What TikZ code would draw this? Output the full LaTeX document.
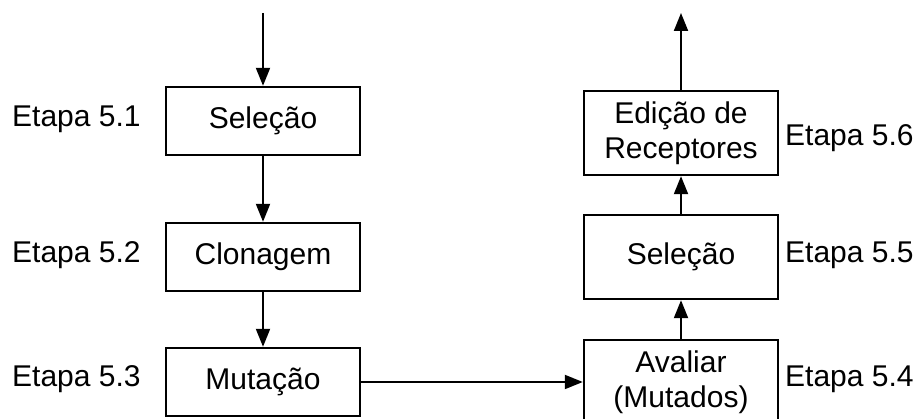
\documentclass[tikz,border=0pt]{standalone}
\usepackage{fontspec}
\setmainfont{Liberation Sans}
\usetikzlibrary{arrows.meta}

\tikzset{
	etapa/.style={rectangle, draw=black, line width=2.4pt, minimum width=194pt, inner sep=0pt, align=center, font=\fontsize{30}{35}\selectfont},
	passo/.style={font=\fontsize{30}{35}\selectfont, inner sep=0pt},
	seta/.style={line width=2pt, -{Triangle[length=18pt,width=14pt]}}
}

\begin{document}
\begin{tikzpicture}[x=1pt,y=1pt]%,scale=1]
			
			\useasboundingbox (0,0) rectangle (917,419);
			
			% coluna da esquerda
			\node[etapa, minimum height=68pt] (S1) at (263,298) {Sele\c{c}\~ao};
			\node[etapa, minimum height=68pt] (C2) at (263,162) {Clonagem};
			\node[etapa, minimum height=68pt] (M3) at (263,37) {Muta\c{c}\~ao};
			%
			% coluna da direita
			\node[etapa, minimum height=84pt] (A4) at (681,37) {Avaliar\\(Mutados)};
			\node[etapa, minimum height=84pt] (S5) at (681,162) {Sele\c{c}\~ao};
			\node[etapa, minimum height=84pt] (E6) at (681,286) {Edi\c{c}\~ao de\\Receptores};
			%
			\coordinate (In) at (263,406);
			\coordinate (Out) at (681,406);
			
			% etapas
			\node[passo, anchor=base west] (L1) at (12,292) {Etapa 5.1};
			\node[passo, anchor=base west] (L2) at (12,156) {Etapa 5.2};
			\node[passo, anchor=base west] (L3) at (12,32) {Etapa 5.3};
			\node[passo, anchor=base west] (L4) at (785,32) {Etapa 5.4};
			\node[passo, anchor=base west] (L5) at (785,156) {Etapa 5.5};
			\node[passo, anchor=base west] (L6) at (785,273) {Etapa 5.6};
			
			% setas
			\draw[seta] (In) -- (S1);
			\draw[seta] (S1) -- (C2);
			\draw[seta] (C2) -- (M3);
			\draw[seta] (M3) -- (A4);
			\draw[seta] (A4) -- (S5);
			\draw[seta] (S5) -- (E6);
			\draw[seta] (E6) -- (Out);
			
			\end{tikzpicture}
\end{document}
